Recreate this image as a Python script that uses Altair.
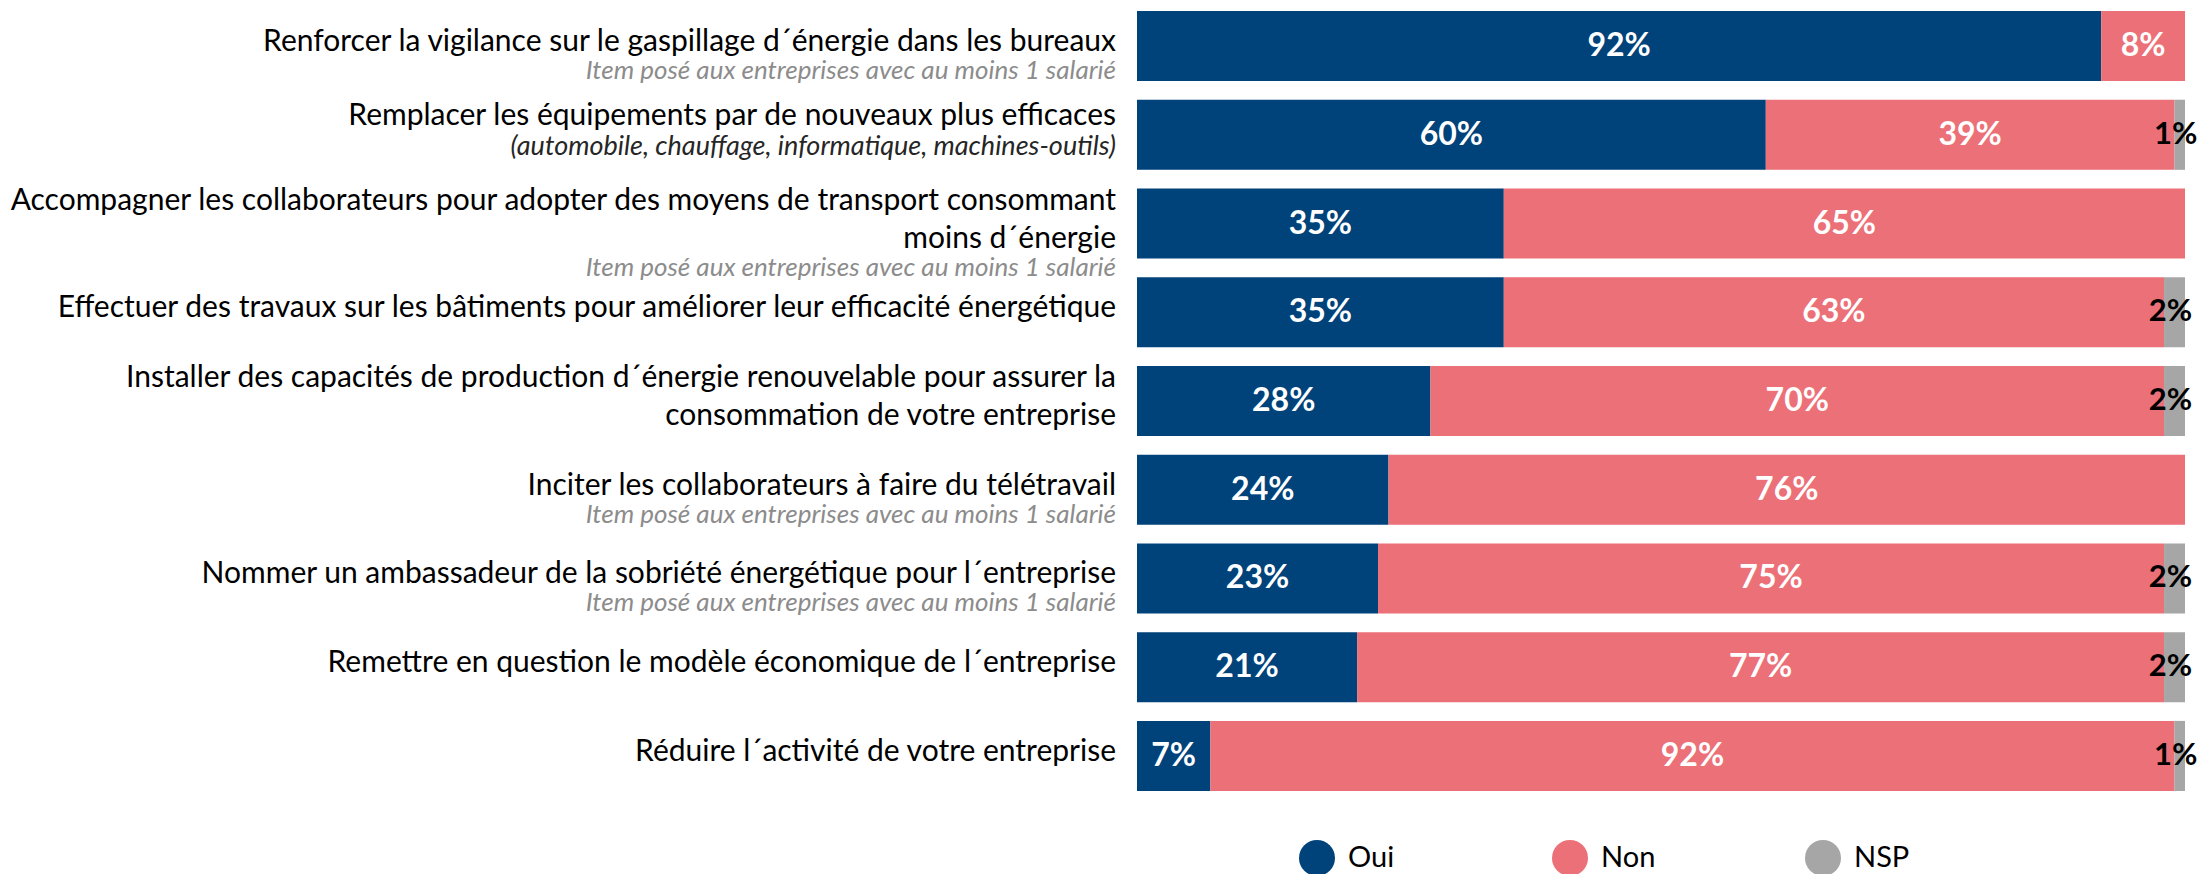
import altair as alt
import pandas as pd

# ---------------- data ----------------
cats = [
    "Renforcer la vigilance",
    "Remplacer les équipements",
    "Accompagner les collaborateurs",
    "Effectuer des travaux",
    "Installer des capacités",
    "Inciter au télétravail",
    "Nommer un ambassadeur",
    "Remettre en question",
    "Réduire l´activité",
]
label_lines = [
    ["Renforcer la vigilance sur le gaspillage d´énergie dans les bureaux"],
    ["Remplacer les équipements par de nouveaux plus efficaces"],
    ["Accompagner les collaborateurs pour adopter des moyens de transport consommant", "moins d´énergie"],
    ["Effectuer des travaux sur les bâtiments pour améliorer leur efficacité énergétique"],
    ["Installer des capacités de production d´énergie renouvelable pour assurer la", "consommation de votre entreprise"],
    ["Inciter les collaborateurs à faire du télétravail"],
    ["Nommer un ambassadeur de la sobriété énergétique pour l´entreprise"],
    ["Remettre en question le modèle économique de l´entreprise"],
    ["Réduire l´activité de votre entreprise"],
]
paren_lines = ["", "(automobile, chauffage, informatique, machines-outils)", "", "", "", "", "", "", ""]
NOTE = "Item posé aux entreprises avec au moins 1 salarié"
has_note = [True, False, True, False, False, True, True, False, False]

series = ["Oui", "Non", "NSP"]
oui = [92, 60, 35, 35, 28, 24, 23, 21, 7]
non = [8, 39, 65, 63, 70, 76, 75, 77, 92]
nsp = [0, 1, 0, 2, 2, 0, 2, 2, 1]
colors = ["#00427A", "#EC7077", "#A6A6A6"]

# ---------------- derived tables ----------------
rows = []
for i, c in enumerate(cats):
    start = 0
    for s, v in zip(series, [oui[i], non[i], nsp[i]]):
        rows.append({"cat": c, "serie": s, "value": v, "start": start,
                     "end": start + v, "mid": start + v / 2,
                     "label": f"{v}%"})
        start += v
bars_df = pd.DataFrame(rows)

# label lines with vertical offsets (layout rule, computed)
MAIN_GAP, PAREN_GAP, NOTE_GAP = 38, 30, 28
line_rows = []
for i, c in enumerate(cats):
    items = [(t, "main") for t in label_lines[i]]
    if paren_lines[i]:
        items.append((paren_lines[i], "paren"))
    gaps = [PAREN_GAP if k == "paren" else MAIN_GAP for _, k in items[1:]]
    span = sum(gaps)
    base = 5 - span / 2
    offs = [base]
    for g in gaps:
        offs.append(offs[-1] + g)
    for (t, k), o in zip(items, offs):
        line_rows.append({"cat": c, "text": t, "kind": k, "dy": round(o)})
    if has_note[i]:
        line_rows.append({"cat": c, "text": NOTE, "kind": "note", "dy": round(offs[-1] + NOTE_GAP)})
lines_df = pd.DataFrame(line_rows)

FONT = "Lato"
W, H = 1048, 780

y_enc = alt.Y("cat:N", sort=cats, axis=None,
              scale=alt.Scale(paddingInner=0.21, paddingOuter=0))

bars = alt.Chart(bars_df).mark_bar().encode(
    x=alt.X("start:Q", scale=alt.Scale(domain=[0, 100]), axis=None),
    x2="end:Q",
    y=y_enc,
    color=alt.Color("serie:N", sort=series,
                    scale=alt.Scale(domain=series, range=colors),
                    legend=alt.Legend(orient="none", legendX=162, legendY=829,
                                      direction="horizontal", title=None,
                                      symbolType="circle", symbolSize=1296,
                                      symbolStrokeWidth=0, symbolOpacity=1,
                                      labelFont=FONT, labelFontSize=29,
                                      labelColor="#000000", labelOffset=13,
                                      columnPadding=148, gridAlign="all",
                                      padding=0)),
)

pct_white = alt.Chart(bars_df).transform_filter(
    "datum.value > 0 && datum.serie != 'NSP'"
).mark_text(font=FONT, fontSize=32, fontWeight="bold", color="white",
            baseline="middle", align="center").encode(
    x="mid:Q", y=y_enc, text="label:N")

pct_black = alt.Chart(bars_df).transform_filter(
    "datum.value > 0 && datum.serie == 'NSP'"
).mark_text(font=FONT, fontSize=31, fontWeight="bold", color="black",
            baseline="middle", align="center", dx=-4).encode(
    x="mid:Q", y=y_enc, text="label:N")

styles = {
    "main": dict(fontSize=30, color="#000000"),
    "paren": dict(fontSize=27, color="#262626", fontStyle="italic"),
    "note": dict(fontSize=26, color="#8C8C8C", fontStyle="italic"),
}
text_layers = []
for (kind, dy), _ in lines_df.groupby(["kind", "dy"]):
    text_layers.append(
        alt.Chart(lines_df).transform_filter(
            f"datum.kind == '{kind}' && datum.dy == {dy}"
        ).mark_text(font=FONT, align="right", baseline="alphabetic",
                    dy=int(dy), **styles[kind]).encode(
            x=alt.value(-21), y=y_enc, text="text:N")
    )

chart = alt.layer(bars, pct_white, pct_black, *text_layers).properties(
    width=W, height=H,
    autosize=alt.AutoSizeParams(type="none"),
    padding={"left": 1129, "top": 3, "right": 14, "bottom": 83},
).configure_view(stroke=None)

chart.save("out.html", embed_options={"renderer": "svg", "actions": False})
